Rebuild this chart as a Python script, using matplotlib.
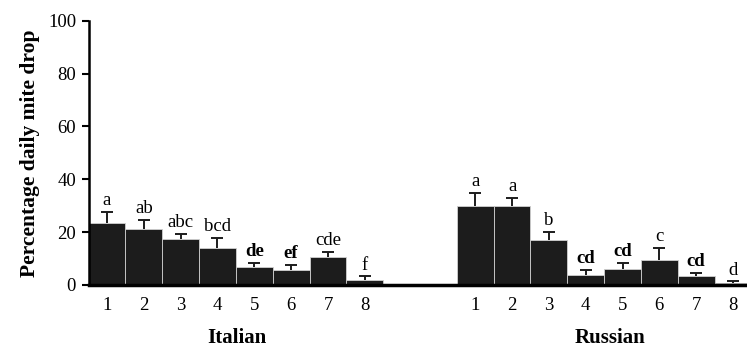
import numpy as np
import matplotlib.pyplot as plt

plt.rcParams['font.family'] = ['Liberation Serif', 'DejaVu Serif']

# mean daily mite drop (%) and upper SE, per treatment
treatments = ['1', '2', '3', '4', '5', '6', '7', '8']
italian_mean = [23.4, 21.1, 17.2, 14.1, 6.9, 5.7, 10.5, 1.9]
italian_se = [4.1, 3.5, 2.0, 3.8, 1.5, 2.0, 2.1, 1.3]
russian_mean = [30.0, 29.7, 17.0, 3.9, 5.9, 9.5, 3.3, 0.8]
russian_se = [4.7, 3.2, 3.0, 1.8, 2.5, 4.4, 1.1, 0.5]
italian_letters = ['a', 'ab', 'abc', 'bcd', 'de', 'ef', 'cde', 'f']
russian_letters = ['a', 'a', 'b', 'cd', 'cd', 'c', 'cd', 'd']
groups = ['Italian', 'Russian']

x_it = np.arange(8)
x_ru = np.arange(8) + 10

fig = plt.figure(figsize=(7.47, 3.47), dpi=100)
ax = fig.add_axes([0.1186, 0.179, 0.8814, 0.761])

for xs, means, ses, letters, boldset in [
        (x_it, italian_mean, italian_se, italian_letters, {4, 5}),
        (x_ru, russian_mean, russian_se, russian_letters, {3, 4, 6})]:
    ax.bar(xs, means, width=1.0, color='#1c1c1c', edgecolor='#d0d0d0',
           linewidth=0.6, zorder=2)
    # upper error bar only: stem plus top cap
    eb = ax.errorbar(xs, means, yerr=[np.zeros(len(ses)), ses], fmt='none',
                     ecolor='#1c1c1c', elinewidth=1.4, capsize=4,
                     capthick=1.4, zorder=3)
    eb[1][0].set_visible(False)
    for i, (x, m, s, lab) in enumerate(zip(xs, means, ses, letters)):
        ax.annotate(lab, (x, m + s), xytext=(0, 2), textcoords='offset points',
                    ha='center', va='bottom', fontsize=13.5,
                    fontweight='semibold' if i in boldset else 'normal')

ax.set_xlim(-0.5, 17.38)
ax.set_ylim(0, 100)
ax.set_yticks(np.arange(0, 101, 20))
ax.set_xticks(np.concatenate([x_it, x_ru]))
ax.set_xticklabels(treatments + treatments)
ax.tick_params(axis='y', labelsize=13.5, length=5, width=1.5, direction='out', pad=4)
ax.tick_params(axis='x', labelsize=13.5, length=0, pad=9)

for side in ['top', 'right']:
    ax.spines[side].set_visible(False)
ax.spines['left'].set_linewidth(1.8)
ax.spines['bottom'].set_linewidth(2.5)
ax.spines['bottom'].set_zorder(4)

ax.set_ylabel('Percentage daily mite drop', fontsize=15.5, fontweight='bold',
              labelpad=6)

fig.text(237 / 747, 0.025, groups[0], ha='center', va='center', fontsize=15,
         fontweight='bold')
fig.text(610 / 747, 0.025, groups[1], ha='center', va='center', fontsize=15,
         fontweight='bold')

fig.savefig('out.png', dpi=100)
